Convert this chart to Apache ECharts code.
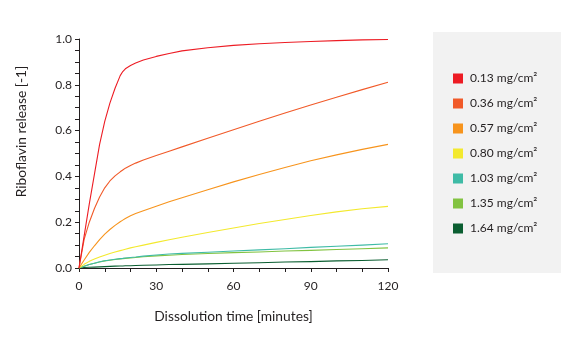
<!DOCTYPE html>
<html><head><meta charset="utf-8">
<script src="https://cdn.jsdelivr.net/npm/echarts@6/dist/echarts.min.js"></script>
<style>html,body{margin:0;padding:0;background:#fff}#c{width:570px;height:337px}</style>
</head><body><div id="c"></div>
<script>
var times = [0,2,4,6,8,10,12,14,16,17,18,20,22,25,30,35,40,50,60,70,80,90,100,110,120];
var seriesNames = ['0.13 mg/cm²','0.36 mg/cm²','0.57 mg/cm²','0.80 mg/cm²','1.03 mg/cm²','1.35 mg/cm²','1.64 mg/cm²'];
var colors = ['#ED1C24','#F15A29','#F7941D','#F3E92E','#3FBBA6','#82C341','#0B5E31'];
var s013 = [0,0.14,0.28,0.41,0.54,0.64,0.72,0.785,0.84,0.858,0.87,0.884,0.895,0.908,0.924,0.937,0.948,0.962,0.972,0.979,0.985,0.989,0.993,0.996,0.998];
var s036 = [0,0.125,0.2,0.26,0.31,0.35,0.38,0.402,0.42,0.428,0.436,0.448,0.458,0.472,0.491,0.51,0.529,0.567,0.604,0.641,0.677,0.712,0.746,0.779,0.811];
var s057 = [0,0.035,0.068,0.097,0.124,0.148,0.168,0.186,0.202,0.209,0.216,0.228,0.238,0.25,0.27,0.289,0.307,0.342,0.376,0.408,0.439,0.468,0.494,0.518,0.54];
var s080 = [0,0.016,0.029,0.039,0.048,0.056,0.063,0.07,0.076,0.079,0.082,0.088,0.093,0.1,0.112,0.123,0.134,0.155,0.175,0.194,0.212,0.229,0.245,0.259,0.269];
var s103 = [0,0.008,0.015,0.021,0.027,0.032,0.035,0.038,0.041,0.042,0.044,0.046,0.048,0.052,0.057,0.061,0.064,0.069,0.074,0.079,0.084,0.09,0.095,0.1,0.106];
var s135 = [0,0.008,0.015,0.021,0.026,0.031,0.034,0.037,0.04,0.041,0.042,0.044,0.046,0.049,0.053,0.056,0.059,0.063,0.067,0.07,0.074,0.077,0.081,0.084,0.088];
var s164 = [0,0.002,0.003,0.004,0.005,0.006,0.007,0.008,0.009,0.009,0.01,0.01,0.011,0.012,0.013,0.015,0.016,0.018,0.021,0.023,0.026,0.028,0.031,0.033,0.036];
var xTicks = [0,30,60,90,120];
var yTicks = [0,0.2,0.4,0.6,0.8,1.0];

var allValues = [s013,s036,s057,s080,s103,s135,s164];
var txt = '#231f20';
var font = 'Lato';
var series = allValues.map(function(vals, i){
  return {
    name: seriesNames[i], type: 'line', showSymbol: false, symbol: 'none',
    smooth: false, z: 10 - i,
    lineStyle: {width: 1.1, color: colors[i], join: 'round'},
    itemStyle: {color: colors[i]},
    data: times.map(function(t, k){ return [t, vals[k]]; })
  };
});
var chart = echarts.init(document.getElementById('c'), null, {renderer: 'canvas'});
chart.setOption({
  animation: false,
  textStyle: {fontFamily: font, color: txt},
  graphic: [{type: 'rect', shape: {x: 433, y: 32, width: 128, height: 241}, style: {fill: '#f2f2f2'}, z: -1}],
  legend: {
    orient: 'vertical', left: 448, top: 66.5, itemWidth: 10, itemHeight: 10, itemGap: 11,
    icon: 'rect', data: seriesNames,
    textStyle: {fontFamily: font, fontSize: 12, color: txt, lineHeight: 14, padding: [0,0,0,2]}
  },
  grid: {left: 79, top: 39, width: 309, height: 229, containLabel: false},
  xAxis: {
    type: 'value', min: xTicks[0], max: xTicks[xTicks.length-1], interval: 30,
    name: 'Dissolution time [minutes]', nameLocation: 'middle', nameGap: 42,
    nameTextStyle: {fontFamily: font, fontSize: 13.8, color: txt},
    axisLine: {show: true, lineStyle: {color: txt, width: 1}},
    axisTick: {show: true, length: 4, lineStyle: {color: txt}},
    minorTick: {show: true, splitNumber: 3, length: 4, lineStyle: {color: txt}},
    splitLine: {show: false},
    axisLabel: {fontFamily: font, fontSize: 12, color: txt, margin: 12}
  },
  yAxis: {
    type: 'value', min: yTicks[0], max: yTicks[yTicks.length-1], interval: 0.2,
    name: 'Riboflavin release [-1]', nameLocation: 'middle', nameGap: 50,
    nameTextStyle: {fontFamily: font, fontSize: 13.8, color: txt, padding: [0,0,0,44]},
    axisLine: {show: true, lineStyle: {color: txt, width: 1}},
    axisTick: {show: true, length: 4, lineStyle: {color: txt}},
    minorTick: {show: true, splitNumber: 4, length: 4, lineStyle: {color: txt}},
    splitLine: {show: false},
    axisLabel: {fontFamily: font, fontSize: 12, color: txt, margin: 7, formatter: function(v){ return v.toFixed(1); }}
  },
  series: series
});
</script></body></html>
